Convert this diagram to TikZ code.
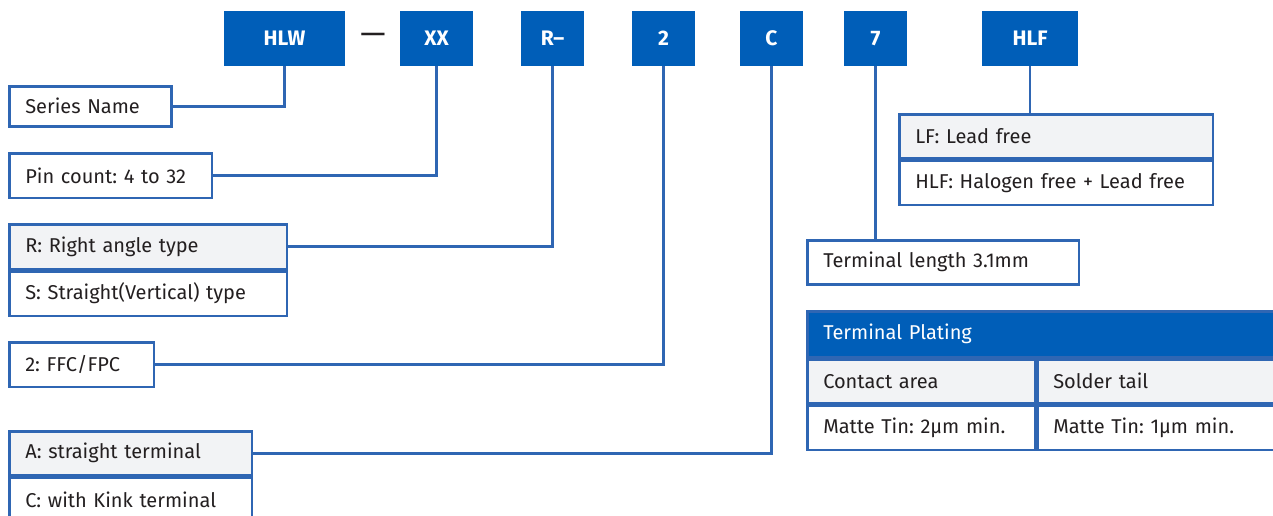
\documentclass[tikz,border=0pt]{standalone}
\usepackage{fontspec}
\setmainfont{Fira Sans}
\usepackage{tikz}
\usetikzlibrary{positioning}
\definecolor{codeblue}{HTML}{005EB8}
\definecolor{lineblue}{HTML}{2F66B3}
\definecolor{rowgray}{HTML}{F2F3F5}
\definecolor{textdark}{HTML}{231F20}
\frenchspacing

\begin{document}
\begin{tikzpicture}[
    x=1pt, y=-1pt,
    font=\fontsize{20}{24}\selectfont,
    code/.style={fill=codeblue, text=white, font=\fontsize{21}{25}\selectfont\bfseries, minimum height=55pt, inner sep=0pt},
    infobox/.style={draw=lineblue, line width=2.5pt, anchor=north west, inner xsep=16pt, inner ysep=0pt, align=left, text=textdark, execute at begin node=\frenchspacing},
    shaded/.style={infobox, fill=rowgray},
    header/.style={infobox, fill=codeblue, text=white},
    link/.style={draw=lineblue, line width=2.5pt}
]
    \useasboundingbox (0,0) rectangle (1273,515);

    % Code boxes
    \node[code, minimum width=121pt] (hlw) at (284.5,38.5) {HLW};
    \node[text=textdark, font=\fontsize{32}{32}\selectfont, inner sep=0pt] (sep) at (373,39) {—};
    \node[code, minimum width=73pt] (xx) at (436.5,38.5) {XX};
    \node[code, minimum width=63pt] (rdash) at (552.5,38.5) {R–};
    \node[code, minimum width=63pt] (two) at (663.5,38.5) {2};
    \node[code, minimum width=63pt] (cbox) at (771.5,38.5) {C};
    \node[code, minimum width=63pt] (seven) at (875.5,38.5) {7};
    \node[code, minimum width=96pt] (hlf) at (1030,38.5) {HLF};

    % Left boxes
    \node[infobox, text width=130pt, minimum height=40pt] (series) at (8,85) {Series Name};
    \node[infobox, text width=170.5pt, minimum height=44.5pt] (pins) at (8,152) {Pin count: 4 to 32};
    \node[shaded, text width=245.5pt, minimum height=44.5pt] (rR) at (8,223) {R: Right angle type};
    \node[infobox, text width=245.5pt, minimum height=44.5pt] (rS) at (rR.south west) {S: Straight(Vertical) type};
    \node[infobox, text width=112.5pt, minimum height=44.5pt] (ffc) at (8,341) {2: FFC/FPC};
    \node[shaded, text width=210.5pt, minimum height=44pt] (rA) at (8,430) {A: straight terminal};
    \node[infobox, text width=210.5pt, minimum height=44pt] (rC) at (rA.south west) {C: with Kink terminal};

    % Right boxes
    \node[shaded, text width=281.5pt, minimum height=44pt] (lf) at (898,113) {LF: Lead free};
    \node[infobox, text width=281.5pt, minimum height=44pt] (hlfrow) at (lf.south west) {\mbox{HLF: Halogen free + Lead free}};
    \node[infobox, text width=239.5pt, minimum height=44pt] (term) at (806,239) {Terminal length 3.1mm};

    % Plating table
    \node[header, text width=445.5pt, minimum height=45.5pt] (plating) at (806,310) {Terminal Plating};
    \node[shaded, text width=195.5pt, minimum height=44pt] (contact) at (plating.south west) {Contact area};
    \node[shaded, text width=215.5pt, minimum height=44pt] (solder) at (contact.north east) {Solder tail};
    \node[infobox, text width=195.5pt, minimum height=44pt] (tin2) at (contact.south west) {Matte Tin: 2µm min.};
    \node[infobox, text width=215.5pt, minimum height=44pt] (tin1) at (tin2.north east) {Matte Tin: 1µm min.};

    % Lines
    \draw[link] (hlw.south) |- (series.east);
    \draw[link] (xx.south) |- (pins.east);
    \draw[link] (rdash.south) |- (rR.east);
    \draw[link] (two.south) |- (ffc.east);
    \draw[link] (cbox.south) |- (rA.east);
    \draw[link] (seven.south) -- (seven.south |- term.north);
    \draw[link] (hlf.south) -- (hlf.south |- lf.north);
\end{tikzpicture}
\end{document}
